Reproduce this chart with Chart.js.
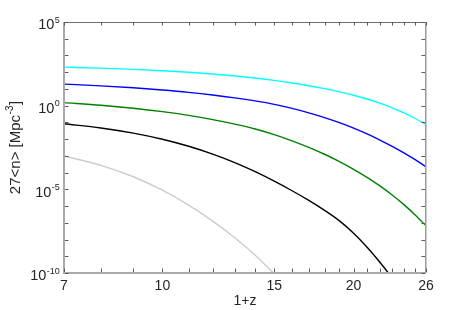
<!DOCTYPE html>
<html><head><meta charset="utf-8">
<script src="https://cdn.jsdelivr.net/npm/chart.js@4/dist/chart.umd.min.js"></script>
<style>html,body{margin:0;padding:0;background:#fff;}#wrap{width:471px;height:310px;}</style>
</head><body><div id="wrap"><canvas id="c" width="471" height="310"></canvas></div>
<script>
// 1+z sample positions
const onePlusZ = [7, 8, 9, 10, 11, 12, 13, 14, 15, 16, 17, 18, 19, 20, 21, 22, 23, 24, 25, 26];
// 27<n> [Mpc^-3] for each curve
const nCyan  = [200, 174, 148, 122, 98.9, 77.8, 59.7, 44.6, 32.4, 22.8, 15.6, 10.4, 6.70, 4.20, 2.51, 1.41, 0.743, 0.369, 0.171, 0.0748];
const nBlue  = [19.5, 15.3, 11.7, 8.65, 6.25, 4.36, 2.94, 1.92, 1.20, 0.684, 0.373, 0.194, 0.0959, 0.0452, 0.0204, 8.87e-3, 3.72e-3, 1.51e-3, 5.89e-4, 2.24e-4];
const nGreen = [1.51, 1.06, 0.701, 0.439, 0.261, 0.147, 0.0791, 0.0403, 0.0186, 7.94e-3, 3.23e-3, 1.25e-3, 4.57e-4, 1.58e-4, 5.19e-5, 1.60e-5, 4.58e-6, 1.22e-6, 2.97e-7, 6.61e-8];
const nBlack = [0.0832, 0.0467, 0.0229, 9.86e-3, 3.74e-3, 1.27e-3, 3.94e-4, 1.13e-4, 3.08e-5, 8.24e-6, 2.19e-6, 5.58e-7, 1.31e-7, 2.39e-8, 3.48e-9, 4.36e-10, 5.06e-11];
const nGray  = [9.77e-4, 2.73e-4, 5.64e-5, 8.87e-6, 1.13e-6, 1.26e-7, 1.28e-8, 1.15e-9, 8.97e-11];
// axes
const xMajorTicks = [7, 10, 15, 20, 26];
const xMinorTicks = [8, 9, 11, 12, 13, 14, 16, 17, 18, 19, 21, 22, 23, 24, 25];
const yMajorExponents = [-10, -5, 0, 5];
const yMinorExponents = [-9, -8, -7, -6, -4, -3, -2, -1, 1, 2, 3, 4];
const xTitle = '1+z';
const yTitleMain = '27<n> [Mpc', yTitleSup = '-3', yTitleEnd = ']';

const FONT = '"Liberation Sans", Arial, sans-serif';
const TXT = '#262626';

function pts(vals){ return vals.map((v,i)=>({x: onePlusZ[i], y: v})); }
function ds(vals, color){
  return {data: pts(vals), borderColor: color, borderWidth: 1.4, pointRadius: 0,
          fill: false, cubicInterpolationMode: 'monotone'};
}

const decor = {
  id: 'decor',
  afterDraw(chart){
    const {ctx, chartArea: a, scales: {x, y}} = chart;
    ctx.save();
    // box
    ctx.fillStyle = '#ababab';
    ctx.fillRect(a.left - 1, a.top, 2, a.bottom - a.top + 1);
    ctx.fillRect(a.left - 1, a.bottom - 1, a.right - a.left + 1, 2);
    ctx.fillStyle = '#6e6e6e';
    ctx.fillRect(a.left, a.top, a.right - a.left, 1);
    ctx.fillStyle = '#9a9a9a';
    ctx.fillRect(a.right - 1, a.top, 1.5, a.bottom - a.top);
    // ticks
    ctx.strokeStyle = '#5a5a5a'; ctx.lineWidth = 1;
    const L = 3.5;
    ctx.beginPath();
    [...xMajorTicks, ...xMinorTicks].forEach(v => {
      const px = Math.round(x.getPixelForValue(v)) + 0.5;
      ctx.moveTo(px, a.bottom - 1); ctx.lineTo(px, a.bottom - 1 - L);
      ctx.moveTo(px, a.top); ctx.lineTo(px, a.top + L);
    });
    [...yMajorExponents, ...yMinorExponents].forEach(e => {
      const py = Math.round(y.getPixelForValue(Math.pow(10, e))) + 0.5;
      ctx.moveTo(a.left + 1, py); ctx.lineTo(a.left + 1 + L, py);
      ctx.moveTo(a.right - 1, py); ctx.lineTo(a.right - 1 - L, py);
    });
    ctx.stroke();
    // x tick labels
    ctx.fillStyle = TXT;
    ctx.font = '14px ' + FONT;
    ctx.textAlign = 'center'; ctx.textBaseline = 'alphabetic';
    xMajorTicks.forEach(v => {
      ctx.fillText(String(v), x.getPixelForValue(v), a.bottom + 16.8);
    });
    // y tick labels 10^e
    ctx.textAlign = 'right';
    const rx = a.left - 4.3;
    yMajorExponents.forEach(e => {
      const ty = y.getPixelForValue(Math.pow(10, e));
      ctx.font = '9px ' + FONT;
      const es = String(e);
      const we = ctx.measureText(es).width;
      ctx.fillText(es, rx, ty + 0.6);
      ctx.font = '14.5px ' + FONT;
      ctx.fillText('10', rx - we - 0.3, ty + 7.4);
    });
    // x title
    ctx.textAlign = 'center';
    ctx.font = '14px ' + FONT;
    ctx.fillText(xTitle, (a.left + a.right) / 2, 305);
    // y title
    ctx.translate(19.5, (a.top + a.bottom) / 2);
    ctx.rotate(-Math.PI / 2);
    ctx.textAlign = 'left';
    ctx.font = '15px ' + FONT;
    const w1 = ctx.measureText(yTitleMain).width;
    const w3 = ctx.measureText(yTitleEnd).width;
    ctx.font = '10px ' + FONT;
    const w2 = ctx.measureText(yTitleSup).width;
    let sx = -(w1 + w2 + w3 + 1) / 2;
    ctx.font = '15px ' + FONT;
    ctx.fillText(yTitleMain, sx, 0);
    ctx.font = '10px ' + FONT;
    ctx.fillText(yTitleSup, sx + w1 + 0.5, -6.5);
    ctx.font = '15px ' + FONT;
    ctx.fillText(yTitleEnd, sx + w1 + w2 + 1, 0);
    ctx.restore();
  }
};

new Chart(document.getElementById('c'), {
  type: 'line',
  data: {
    datasets: [
      ds(nCyan, '#00ffff'),
      ds(nBlue, '#0000ff'),
      ds(nGreen, '#008000'),
      ds(nBlack, '#000000'),
      ds(nGray, '#cccccc')
    ]
  },
  options: {
    responsive: false, animation: false, devicePixelRatio: 1,
    layout: {padding: {left: 0, top: 22, right: 45, bottom: 0}},
    plugins: {legend: {display: false}, tooltip: {enabled: false}},
    scales: {
      x: {type: 'logarithmic', min: 7, max: 26,
          grid: {display: false}, border: {display: false},
          ticks: {display: false},
          afterFit(s){ s.height = 37; }},
      y: {type: 'logarithmic', min: 1e-10, max: 1e5,
          grid: {display: false}, border: {display: false},
          ticks: {display: false},
          afterFit(s){ s.width = 64; }}
    }
  },
  plugins: [decor]
});
</script></body></html>
